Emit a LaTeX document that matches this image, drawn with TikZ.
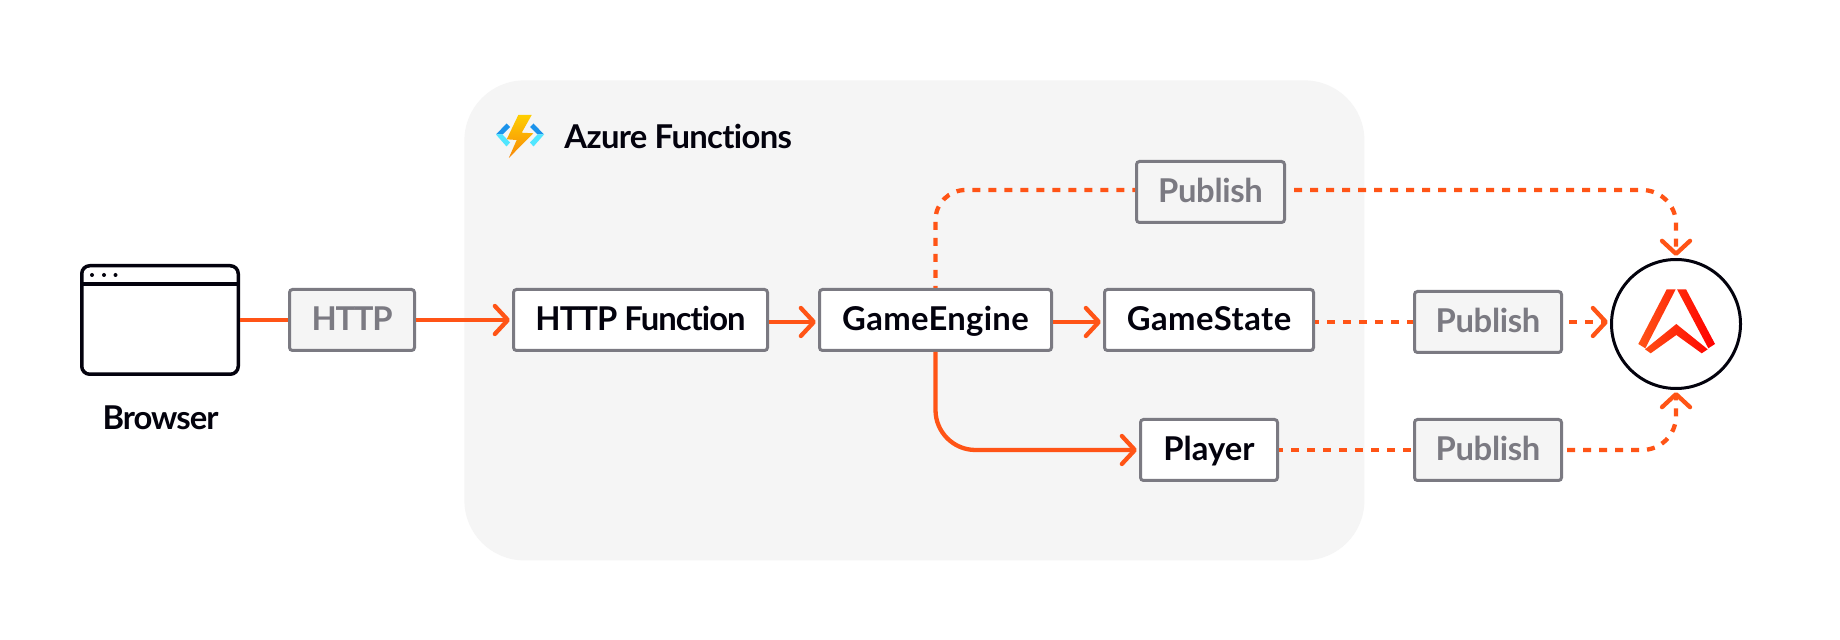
\documentclass[tikz,border=0pt]{standalone}
\usepackage{fontspec}
\setmainfont{Lato}[Ligatures=NoCommon]
\usetikzlibrary{arrows.meta}
\definecolor{ink}{HTML}{03020D}
\definecolor{edge}{HTML}{7B7A82}
\definecolor{panelgrey}{HTML}{F5F5F5}
\definecolor{flame}{HTML}{FF5416}
\newcommand{\spc}[2]{{\addfontfeature{LetterSpace=#1}#2}}
\tikzset{
  x=0.5pt,y=-0.5pt,
  every node/.style={font=\fontsize{16.4pt}{18pt}\selectfont\bfseries},
  box/.style={draw=edge,line width=1.5pt,rounded corners=1.5pt,inner sep=0pt,minimum height=30.5pt,text height=10.5pt,text depth=0pt},
  whitebox/.style={box,fill=white,text=ink},
  greybox/.style={box,fill=panelgrey,text=edge},
  flow/.style={draw=flame,line width=2.15pt,-{Straight Barb[length=6.5pt,width=14pt,round]},shorten >=1pt},
  plainflow/.style={draw=flame,line width=2.15pt},
  dashflow/.style={flow,dash pattern=on 4pt off 4pt},
  dashplain/.style={plainflow,dash pattern=on 4pt off 4pt},
  label/.style={text=ink,inner sep=0pt}
}
\begin{document}
\begin{tikzpicture}
\useasboundingbox (0,0) rectangle (1840,640);
\fill[white] (0,0) rectangle (1840,640);
% panel
\node[fill=panelgrey,rounded corners=30pt,minimum width=450pt,minimum height=240pt,inner sep=0pt,anchor=north west] (panel) at (464,80) {};
% boxes
\node[draw=ink,line width=1.75pt,rounded corners=4pt,fill=white,minimum width=78.25pt,minimum height=54.25pt,inner sep=0pt] (browser) at (160,320) {};
\draw[ink,line width=1.75pt] (82,284) -- (238,284);
\fill[ink] (92,275) circle (1pt) (104,275) circle (1pt) (115.5,275) circle (1pt);
\node[label,anchor=base] (browserlabel) at (160.5,430) {\spc{-3}{Browser}};
\node[greybox,minimum width=62.5pt] (http) at (352,320) {\spc{-4}{HTTP}};
\node[whitebox,minimum width=127pt] (fn) at (640.5,320) {\spc{-3}{HTTP Function}};
\node[whitebox,minimum width=116pt] (ge) at (935.5,320) {\spc{1}{GameEngine}};
\node[whitebox,minimum width=104.5pt] (gs) at (1209,320) {\spc{1.5}{GameState}};
\node[greybox,minimum width=74pt] (pubtop) at (1210.5,192) {\spc{-1}{Publish}};
\node[whitebox,minimum width=68.5pt] (player) at (1209,450) {Player};
\node[greybox,minimum width=73.5pt] (pubmid) at (1488,322) {\spc{-1}{Publish}};
\node[greybox,minimum width=73.5pt] (pubbot) at (1488,450) {\spc{-1}{Publish}};
\node[draw=ink,line width=1.5pt,fill=white,circle,minimum size=64.5pt,inner sep=0pt] (ably) at (1676,324) {};
\node[label,anchor=base west] (azure) at (564,148.3) {\spc{-2}{Azure Functions}};
% connectors
\draw[plainflow] (browser.east) -- (http.west);
\draw[flow] (http.east) -- (fn.west);
\draw[flow] ([yshift=-1pt]fn.east) -- ([yshift=-1pt]ge.west);
\draw[flow] ([yshift=-1pt]ge.east) -- ([yshift=-1pt]gs.west);
\draw[flow,rounded corners=20pt] (ge.south) |- (player.west);
\draw[dashplain,dash phase=3pt,rounded corners=15pt] (ge.north) |- ([yshift=1pt]pubtop.west);
\draw[dashflow,dash phase=4pt,rounded corners=17pt] ([yshift=1pt]pubtop.east) -| (ably.north);
\draw[dashplain,dash phase=2pt] ([yshift=-1pt]gs.east) -- (pubmid.west);
\draw[dashflow,dash phase=5pt] (pubmid.east) -- ([yshift=1pt]ably.west);
\draw[dashplain,dash phase=2pt] (player.east) -- (pubbot.west);
\draw[dashflow,dash phase=6pt,rounded corners=17pt] (pubbot.east) -| (ably.south);
% Ably mark
\shade[left color=flame,right color=red]
  (1666.7,289.3) -- (1675.7,289.3) -- (1645.3,348.3) -- (1638.3,344) -- cycle
  (1677,289.3) -- (1686,289.3) -- (1715,344) -- (1708.3,348.3) -- cycle
  (1645,349.3) -- (1676.3,324) -- (1707.7,349.3) -- (1701.7,353.3) -- (1676.3,335) -- (1650.7,353.3) -- cycle;
% Azure Functions mark
\fill[color={rgb,255:red,27;green,147;blue,235}] (496,134.5) -- (506.5,123.5) -- (510,127) -- (502.5,134.5) -- cycle
  (544,134.5) -- (533.5,123.5) -- (530,127) -- (537.5,134.5) -- cycle;
\fill[color={rgb,255:red,80;green,230;blue,255}] (496,134.5) -- (502.5,134.5) -- (510,142.5) -- (506.5,146.5) -- cycle
  (544,134.5) -- (537.5,134.5) -- (530,142.5) -- (533.5,146.5) -- cycle;
\shade[top color={rgb,255:red,254;green,206;blue,0},bottom color={rgb,255:red,247;green,136;blue,10}]
  (518.3,115) -- (531.7,115) -- (521.7,132.7) -- (533.3,133.3) -- (508.8,158) -- (516.7,140) -- (506.7,139.3) -- cycle;
\end{tikzpicture}
\end{document}
